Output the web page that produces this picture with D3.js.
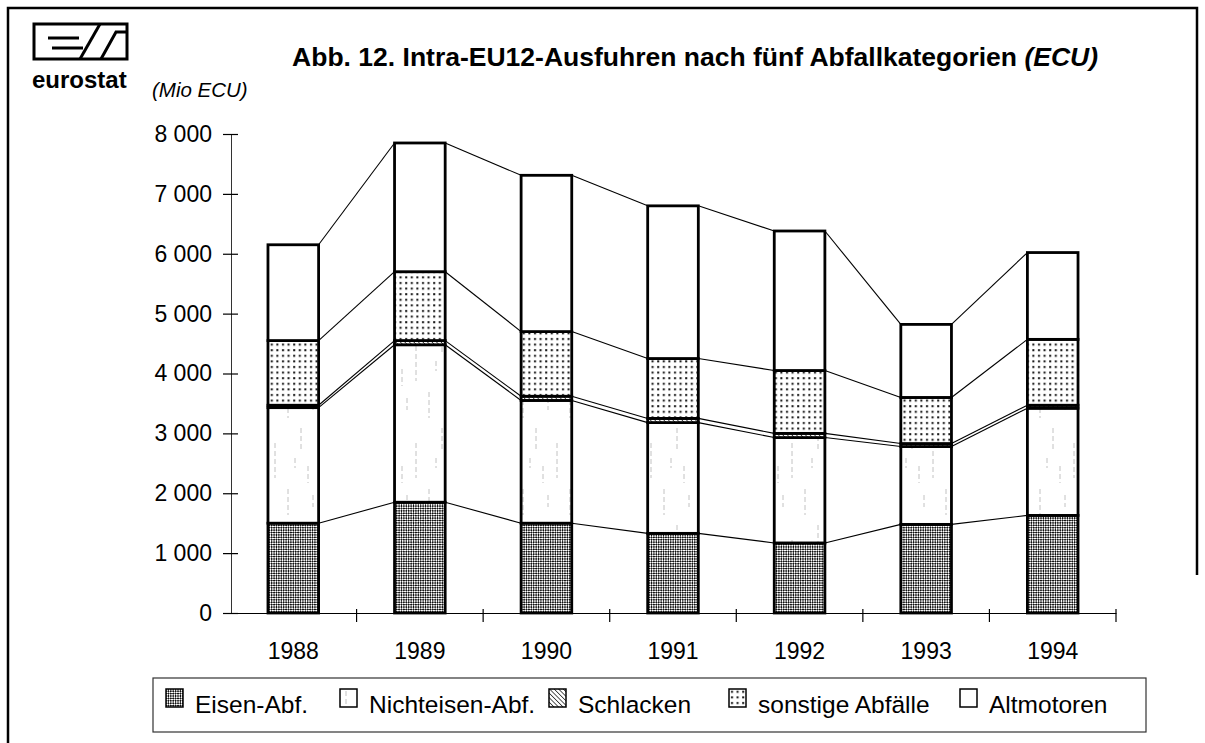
<!DOCTYPE html>
<html>
<head>
<meta charset="utf-8">
<script src="https://cdn.jsdelivr.net/npm/d3@7"></script>
<style>
  body { margin: 0; background: #fff; }
  svg { font-family: "Liberation Sans", Arial, sans-serif; }
</style>
</head>
<body>
<svg id="chart" width="1205" height="743"></svg>
<script>
// data (Mio ECU)
const years = ["1988", "1989", "1990", "1991", "1992", "1993", "1994"];
const eisen = [1500, 1850, 1500, 1330, 1170, 1480, 1630];
const nichteisen = [1930, 2630, 2050, 1850, 1760, 1300, 1790];
const schlacken = [40, 70, 70, 70, 70, 50, 50];
const sonstige = [1080, 1150, 1080, 1000, 1050, 770, 1100];
const altmotoren = [1600, 2150, 2610, 2550, 2330, 1220, 1450];
const seriesNames = ["Eisen-Abf.", "Nichteisen-Abf.", "Schlacken", "sonstige Abfälle", "Altmotoren"];
const yTicks = [0, 1000, 2000, 3000, 4000, 5000, 6000, 7000, 8000];

const svg = d3.select("#chart");
const defs = svg.append("defs");

// fill patterns
const pEisen = defs.append("pattern").attr("id", "p-eisen")
  .attr("width", 3.4).attr("height", 3.4).attr("patternUnits", "userSpaceOnUse")
  .attr("patternTransform", "rotate(45)");
pEisen.append("rect").attr("width", 3.4).attr("height", 3.4).attr("fill", "#fff");
pEisen.append("rect").attr("width", 1.7).attr("height", 1.7).attr("fill", "#111");
pEisen.append("rect").attr("x", 1.7).attr("y", 1.7).attr("width", 1.7).attr("height", 1.7).attr("fill", "#111");

// sparse faint vertical scratches for Nichteisen
const pNicht = defs.append("pattern").attr("id", "p-nicht")
  .attr("width", 47).attr("height", 97).attr("patternUnits", "userSpaceOnUse");
pNicht.append("rect").attr("width", 47).attr("height", 97).attr("fill", "#fff");
[[6, 4, 30], [19, 40, 62], [31, 10, 22], [40, 55, 90], [13, 70, 80], [26, 78, 95]].forEach(s => {
  pNicht.append("line").attr("x1", s[0]).attr("x2", s[0]).attr("y1", s[1]).attr("y2", s[2])
    .attr("stroke", "#bbb").attr("stroke-width", 0.9).attr("stroke-dasharray", "5,3");
});

const pSchl = defs.append("pattern").attr("id", "p-schl")
  .attr("width", 3.2).attr("height", 3.2).attr("patternUnits", "userSpaceOnUse")
  .attr("patternTransform", "rotate(45)");
pSchl.append("rect").attr("width", 3.2).attr("height", 3.2).attr("fill", "#fff");
pSchl.append("rect").attr("width", 3.2).attr("height", 0.8).attr("fill", "#333");

const pSonst = defs.append("pattern").attr("id", "p-sonst")
  .attr("width", 5.6).attr("height", 5.6).attr("patternUnits", "userSpaceOnUse");
pSonst.append("rect").attr("width", 5.6).attr("height", 5.6).attr("fill", "#fff");
pSonst.append("rect").attr("x", 2).attr("y", 2).attr("width", 2).attr("height", 2).attr("fill", "#111");

const fills = ["url(#p-eisen)", "url(#p-nicht)", "url(#p-schl)", "url(#p-sonst)", "#fff"];

// frame
svg.append("path").attr("d", "M8,743 V8 H1197 V575")
  .attr("fill", "none").attr("stroke", "#000").attr("stroke-width", 2.5);

// eurostat logo
const logo = svg.append("g").attr("stroke", "#000").attr("fill", "none");
logo.append("rect").attr("x", 34).attr("y", 24).attr("width", 93).attr("height", 35).attr("stroke-width", 3);
logo.append("line").attr("x1", 48).attr("x2", 79).attr("y1", 38).attr("y2", 38).attr("stroke-width", 3);
logo.append("line").attr("x1", 52).attr("x2", 83).attr("y1", 48).attr("y2", 48).attr("stroke-width", 3);
logo.append("line").attr("x1", 80).attr("x2", 100).attr("y1", 59).attr("y2", 24).attr("stroke-width", 3);
logo.append("path").attr("d", "M101,59 L116,32 H127").attr("stroke-width", 3);
svg.append("text").attr("x", 32).attr("y", 88).attr("font-size", 24).attr("font-weight", "bold")
  .text("eurostat");

// title
const title = svg.append("text").attr("x", 1098).attr("y", 66).attr("text-anchor", "end")
  .attr("font-size", 26.5).attr("font-weight", "bold");
title.append("tspan").text("Abb. 12. Intra-EU12-Ausfuhren nach fünf Abfallkategorien ");
title.append("tspan").attr("font-style", "italic").text("(ECU)");

svg.append("text").attr("x", 152).attr("y", 97).attr("font-size", 20.5).attr("font-style", "italic")
  .text("(Mio ECU)");

// scales
const x = d3.scaleBand().domain(years).range([230, 1116]).paddingInner(0.6).paddingOuter(0.3);
const y = d3.scaleLinear().domain([0, 8000]).range([613, 134]);
const bw = x.bandwidth();

const table = years.map((yr, i) => ({
  year: yr, s0: eisen[i], s1: nichteisen[i], s2: schlacken[i], s3: sonstige[i], s4: altmotoren[i]
}));
const stack = d3.stack().keys(["s0", "s1", "s2", "s3", "s4"])(table);

// y axis
const yAxis = svg.append("g").attr("transform", "translate(231,0)")
  .call(d3.axisLeft(y).tickValues(yTicks).tickSizeInner(8).tickSizeOuter(0).tickPadding(11)
    .tickFormat(d => d3.format(",")(d).replace(",", " ")));
yAxis.select(".domain").attr("stroke", "#333").attr("stroke-width", 1);
yAxis.selectAll(".tick line").attr("x2", 7).attr("x1", -8).attr("stroke-width", 1.2);
yAxis.selectAll(".tick text").attr("font-size", 23).attr("fill", "#000")
  .attr("font-family", "Liberation Sans, Arial, sans-serif");

// x axis
const xAxis = svg.append("g").attr("transform", "translate(0,613)")
  .call(d3.axisBottom(x).tickSize(0).tickPadding(30));
xAxis.select(".domain").attr("stroke", "#000").attr("stroke-width", 1.2);
xAxis.selectAll(".tick text").attr("font-size", 23).attr("fill", "#000")
  .attr("font-family", "Liberation Sans, Arial, sans-serif");
const bounds = years.slice(1).map(yr => x(yr) - x.step() * x.paddingInner() / 2).concat([1116]);
xAxis.selectAll(".sep").data(bounds).join("line").attr("class", "sep")
  .attr("x1", d => d).attr("x2", d => d).attr("y1", -4).attr("y2", 9)
  .attr("stroke", "#000").attr("stroke-width", 1.2);

// connector lines between bars, one per stack level
const conn = svg.append("g").attr("stroke", "#000").attr("stroke-width", 1.1).attr("fill", "none");
stack.forEach(layer => {
  conn.selectAll(null).data(layer.slice(0, -1)).join("line")
    .attr("x1", d => x(d.data.year) + bw)
    .attr("y1", d => y(d[1]))
    .attr("x2", (d, i) => x(layer[i + 1].data.year))
    .attr("y2", (d, i) => y(layer[i + 1][1]));
});

// stacked bars
const bars = svg.append("g");
stack.forEach((layer, k) => {
  bars.selectAll(null).data(layer).join("rect")
    .attr("x", d => x(d.data.year))
    .attr("y", d => y(d[1]))
    .attr("width", bw)
    .attr("height", d => y(d[0]) - y(d[1]))
    .attr("fill", fills[k])
    .attr("stroke", "#000")
    .attr("stroke-width", 2.8);
});

// legend
svg.append("rect").attr("x", 153).attr("y", 678).attr("width", 993).attr("height", 54)
  .attr("fill", "none").attr("stroke", "#333").attr("stroke-width", 1.2);
const legendX = [166, 340, 549, 729, 960];
const leg = svg.append("g").selectAll("g").data(seriesNames).join("g")
  .attr("transform", (d, i) => `translate(${legendX[i]},0)`);
leg.append("rect").attr("y", 689).attr("width", 17).attr("height", 18)
  .attr("fill", (d, i) => fills[i]).attr("stroke", "#000").attr("stroke-width", 1.5);
leg.append("text").attr("x", 29).attr("y", 713).attr("font-size", 24.5).text(d => d);
</script>
</body>
</html>
